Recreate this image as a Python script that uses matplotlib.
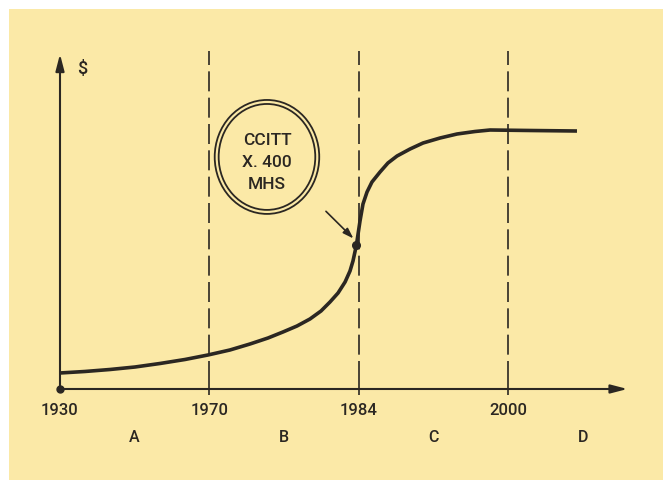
import numpy as np
import matplotlib
matplotlib.use("Agg")
import matplotlib.pyplot as plt
from matplotlib.patches import Ellipse

# Period boundaries on the time axis and phase letters between them
years = ["1930", "1970", "1984", "2000"]
phases = ["A", "B", "C", "D"]

# Curve (x in period units, y in arbitrary $ units)
curve_x = [0.000, 0.167, 0.335, 0.502, 0.670, 0.837, 0.991, 1.138, 1.272,
           1.393, 1.493, 1.587, 1.674, 1.748, 1.808, 1.862, 1.909, 1.942,
           1.962, 1.975, 1.985, 1.995, 2.009, 2.029, 2.056, 2.089, 2.143,
           2.196, 2.257, 2.344, 2.431, 2.545, 2.659, 2.779, 2.880, 3.147,
           3.462]
curve_y = [0.618, 0.676, 0.753, 0.849, 0.985, 1.139, 1.313, 1.506, 1.737,
           1.969, 2.201, 2.432, 2.703, 3.012, 3.359, 3.707, 4.131, 4.556,
           4.942, 5.290, 5.560, 5.946, 6.486, 7.143, 7.606, 7.992, 8.378,
           8.726, 8.996, 9.266, 9.498, 9.691, 9.846, 9.942, 10.00, 9.981,
           9.961]
marked = 20  # point labelled by the bubble

bubble_text = ["CCITT", "X. 400", "MHS"]

ink = "#2b2722"
paper = "#fbe9a7"
plt.rcParams["font.family"] = ["Roboto", "DejaVu Sans"]
plt.rcParams["font.weight"] = "medium"

fig = plt.figure(figsize=(6.63, 4.81), dpi=100, facecolor="white")
ax = fig.add_axes([9 / 663, 0, 654 / 663, 471 / 481])
ax.set_facecolor(paper)
ax.set_xlim(-0.3415, 4.038)
ax.set_ylim(-3.514, 14.672)
for s in ax.spines.values():
    s.set_visible(False)
ax.set_xticks([])
ax.set_yticks([])

xpos = np.arange(len(years))

# axes with arrow heads
arrow = dict(arrowstyle="-|>,head_length=0.5,head_width=0.13",
             color=ink, lw=1.5, shrinkA=0, shrinkB=0, mutation_scale=20)
ax.annotate("", xy=(3.80, 0), xytext=(0, 0), arrowprops=arrow)
ax.annotate("", xy=(0, 12.93), xytext=(0, 0), arrowprops=arrow)
ax.plot(0, 0, "o", color=ink, ms=5)
ax.text(0.147, 12.39, "$", fontsize=13, color=ink, ha="center", va="center")

# dashed period boundaries
ax.vlines(xpos[1:], 0.3, 13.05, colors=ink, lw=1.2,
          linestyles=(0, (12, 3.8)))
ax.vlines(xpos[1:], -0.25, 0.3, colors=ink, lw=1.2)

for x, lab in zip(xpos, years):
    ax.text(x, -0.81, lab, fontsize=12, color=ink, ha="center", va="center")
for x, lab in zip(xpos + 0.5, phases):
    ax.text(x, -1.85, lab, fontsize=11.5, color=ink, ha="center", va="center")

# adoption curve
ax.plot(curve_x, curve_y, color=ink, lw=2.6, solid_capstyle="butt",
        solid_joinstyle="round")
ax.plot(curve_x[marked], curve_y[marked], "o", color=ink, ms=5.5)

# double-ring bubble with arrow to the marked point
cx, cy = 1.386, 8.96
ax.add_patch(Ellipse((cx, cy), 0.70, 4.40, fill=False, ec=ink, lw=1.3))
ax.add_patch(Ellipse((cx, cy), 0.647, 4.09, fill=False, ec=ink, lw=1.3))
for i, line in enumerate(bubble_text):
    ax.text(cx, 9.65 - 0.85 * i, line, fontsize=12.5, color=ink,
            ha="center", va="center")
ax.annotate("", xy=(curve_x[marked] - 0.02, curve_y[marked] + 0.25),
            xytext=(1.781, 6.86),
            arrowprops=dict(arrowstyle="-|>,head_length=0.45,head_width=0.15",
                            color=ink, lw=1.2, shrinkA=0, shrinkB=0,
                            mutation_scale=14))

fig.savefig("out.png", dpi=100, facecolor="white")
